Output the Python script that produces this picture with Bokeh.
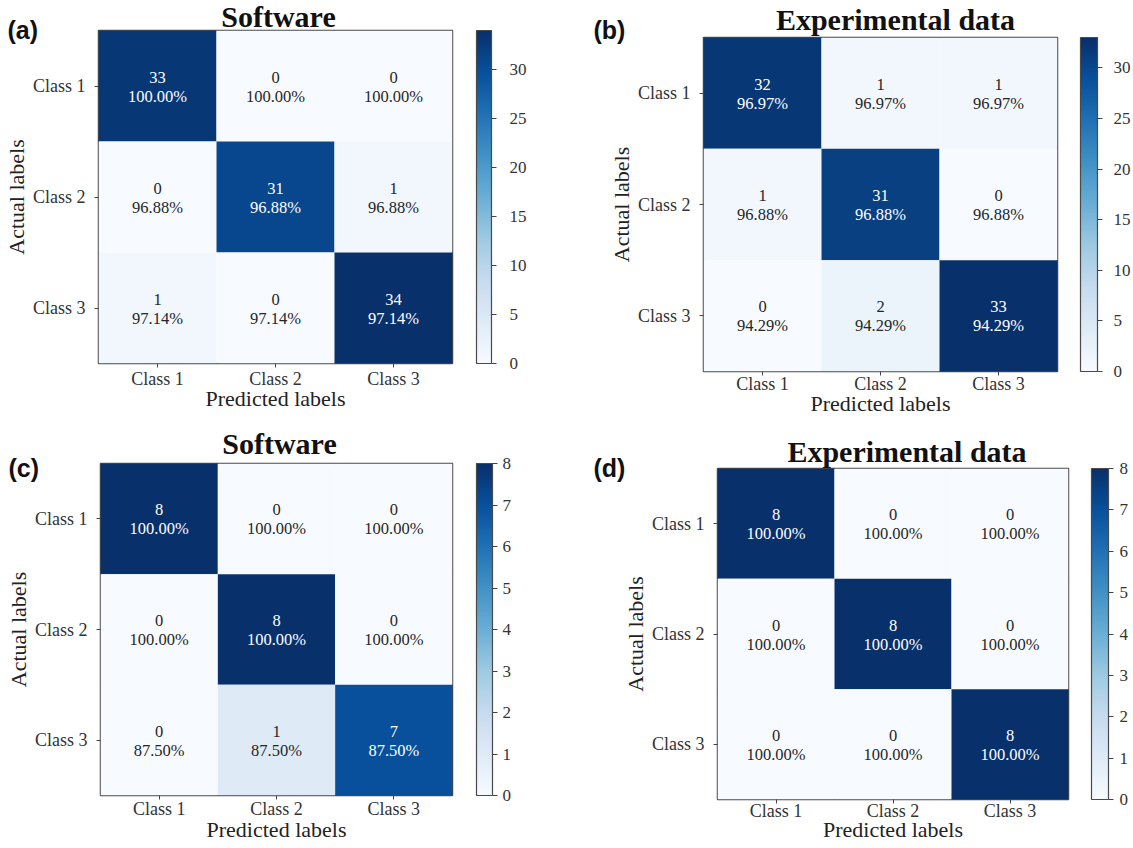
from bokeh.plotting import figure
from bokeh.models import (ColumnDataSource, LinearColorMapper, ColorBar,
                          SingleIntervalTicker, FactorRange)
from bokeh.layouts import row, column
from bokeh.palettes import Blues256
from bokeh.core.properties import value
from bokeh.embed import file_html
from bokeh.resources import INLINE

# ---- data -------------------------------------------------------------
CLASSES = ["Class 1", "Class 2", "Class 3"]

counts_a = [[33, 0, 0], [0, 31, 1], [1, 0, 34]]
pct_a = ["100.00%", "96.88%", "97.14%"]

counts_b = [[32, 1, 1], [1, 31, 0], [0, 2, 33]]
pct_b = ["96.97%", "96.88%", "94.29%"]

counts_c = [[8, 0, 0], [0, 8, 0], [0, 1, 7]]
pct_c = ["100.00%", "100.00%", "87.50%"]

counts_d = [[8, 0, 0], [0, 8, 0], [0, 0, 8]]
pct_d = ["100.00%", "100.00%", "100.00%"]

titles = ["Software", "Experimental data", "Software", "Experimental data"]
tags = ["(a)", "(b)", "(c)", "(d)"]
cbar_steps = [5, 5, 1, 1]

# ---- styling ----------------------------------------------------------
PALETTE = list(reversed(Blues256))
SERIF = "Liberation Serif"
SANS = "Liberation Sans"
EDGE = "#4a4a4a"
INK = "#262626"

# width, height, borders (left, top, right, bottom), colorbar gap, width and
# label standoff, title offset from the top-centre of the heatmap, tag offset
# from its top-left corner, x tick-label and x-axis-label standoffs
LAYOUT = [
    dict(w=560, h=424, b=(98, 30, 108, 61), gap=24, cbw=15, cbs=13,
         t=(3, 14.5), g=(-91, 1), xt=1, xs=-6),
    dict(w=573, h=424, b=(143, 37, 76, 53), gap=23, cbw=17, cbs=11,
         t=(15, 18), g=(-110, 8), xt=-2, xs=-6),
    dict(w=560, h=424, b=(100, 39, 108, 53), gap=24, cbw=16, cbs=5,
         t=(3, 20.5), g=(-92, -4.5), xt=-1, xs=-5),
    dict(w=573, h=424, b=(157, 44, 65, 49), gap=23, cbw=17, cbs=6,
         t=(14, 17), g=(-124, 0.5), xt=-3, xs=-7),
]


def confusion_panel(counts, pcts, title, tag, step, lay):
    left, top, right, bottom = lay["b"]
    fw = lay["w"] - left - right
    fh = lay["h"] - top - bottom
    n = len(CLASSES)

    p = figure(width=lay["w"], height=lay["h"],
               x_range=FactorRange(factors=CLASSES),
               y_range=FactorRange(factors=list(reversed(CLASSES))),
               min_border_left=left, min_border_top=top,
               min_border_right=right, min_border_bottom=bottom,
               output_backend="svg", toolbar_location=None, tools="")
    p.title.text_font_size = "0px"
    p.title.standoff = 0

    high = max(max(r) for r in counts)
    mapper = LinearColorMapper(palette=PALETTE, low=0, high=high)

    actual, pred, val, ctxt, ptxt, tcol = [], [], [], [], [], []
    for i, a in enumerate(CLASSES):
        for j, pr in enumerate(CLASSES):
            v = counts[i][j]
            actual.append(a)
            pred.append(pr)
            val.append(v)
            ctxt.append(str(v))
            ptxt.append(pcts[i])
            tcol.append("white" if v > high / 2 else INK)
    src = ColumnDataSource(dict(actual=actual, pred=pred, val=val,
                                ctxt=ctxt, ptxt=ptxt, tcol=tcol))

    p.rect(x="pred", y="actual", width=1, height=1, source=src,
           fill_color={"field": "val", "transform": mapper}, line_color=None)
    for field, dy in (("ctxt", -9), ("ptxt", 10)):
        p.text(x="pred", y="actual", text=field, source=src, y_offset=dy,
               text_align="center", text_baseline="middle",
               text_color="tcol", text_font=value(SERIF),
               text_font_size="16.5px")

    p.grid.visible = False
    p.outline_line_color = EDGE
    p.outline_line_width = 1.5
    p.background_fill_color = "white"

    p.xaxis.axis_label = "Predicted labels"
    p.yaxis.axis_label = "Actual labels"
    for ax in (p.xaxis[0], p.yaxis[0]):
        ax.axis_line_color = None
        ax.major_tick_in = 0
        ax.major_tick_out = 4
        ax.major_tick_line_color = "#444444"
        ax.major_label_text_font = SERIF
        ax.major_label_text_font_size = "18px"
        ax.major_label_text_color = "#333333"
        ax.axis_label_text_font = SERIF
        ax.axis_label_text_font_size = "22px"
        ax.axis_label_text_font_style = "normal"
        ax.axis_label_text_color = "#222222"
    p.xaxis.major_label_standoff = lay["xt"]
    p.xaxis.axis_label_standoff = lay["xs"]
    p.yaxis.major_label_standoff = 9
    p.yaxis.axis_label_standoff = 1
    p.yaxis.major_label_orientation = "horizontal"

    cb = ColorBar(color_mapper=mapper, ticker=SingleIntervalTicker(interval=step),
                  location=(fw + lay["gap"], 0), width=lay["cbw"], height=fh,
                  margin=0, padding=0,
                  bar_line_color=EDGE, bar_line_width=1.2,
                  major_tick_in=0, major_tick_out=5,
                  major_tick_line_color="#444444", minor_tick_line_color=None,
                  major_label_text_font=SERIF, major_label_text_font_size="17px",
                  major_label_text_color="#333333", label_standoff=lay["cbs"],
                  background_fill_color=None, border_line_color=None)
    p.add_layout(cb, "center")

    # title above the heatmap's top-centre, panel tag off its top-left corner
    tdx, tdy = lay["t"]
    p.text(x=[n / 2], y=[n], text=[title], x_offset=tdx, y_offset=-tdy,
           text_font=value(SERIF), text_font_style="bold",
           text_font_size="30px", text_align="center",
           text_baseline="middle", text_color="#111111", level="overlay")
    gdx, gdy = lay["g"]
    p.text(x=[0], y=[n], text=[tag], x_offset=gdx, y_offset=-gdy,
           text_font=value(SANS), text_font_style="bold",
           text_font_size="25px", text_align="left",
           text_baseline="middle", text_color="#111111", level="overlay")
    return p


panels = [confusion_panel(c, pc, t, g, s, lay) for c, pc, t, g, s, lay in zip(
    [counts_a, counts_b, counts_c, counts_d],
    [pct_a, pct_b, pct_c, pct_d], titles, tags, cbar_steps, LAYOUT)]

# each panel sits in its own column so that its frame keeps its own borders
cells = [column(p) for p in panels]
page = column(row(cells[0], cells[1]), row(cells[2], cells[3]))
open("out.html", "w").write(file_html(page, INLINE))
